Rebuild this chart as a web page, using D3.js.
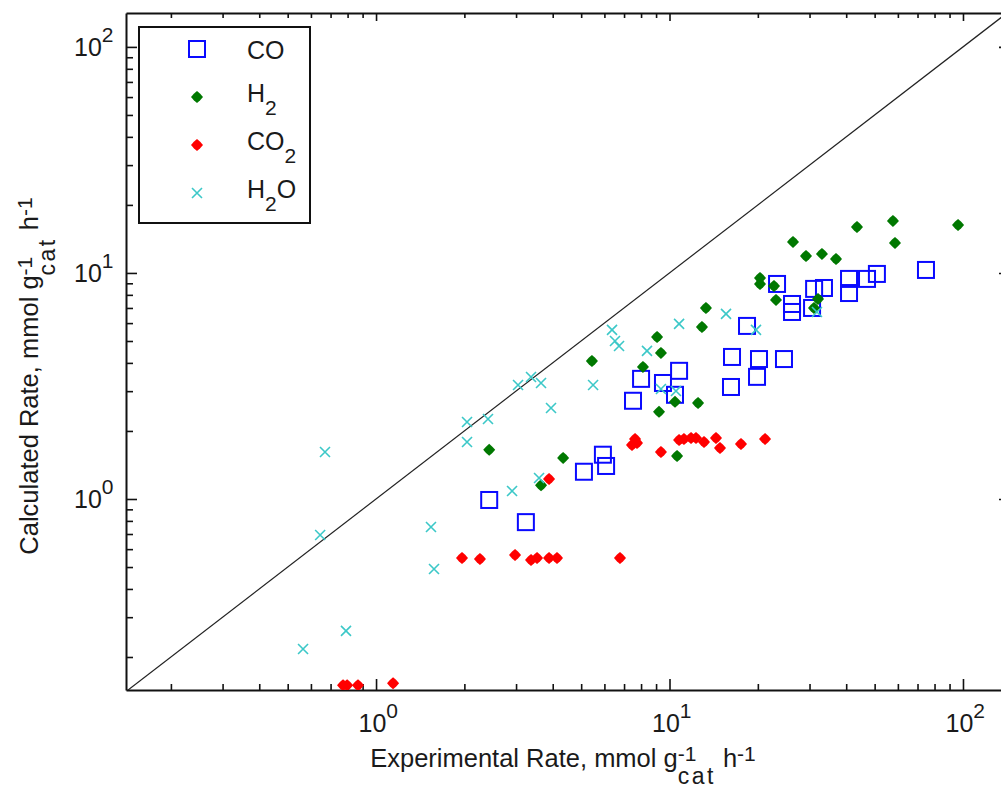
<!DOCTYPE html>
<html>
<head>
<meta charset="utf-8">
<script src="https://cdn.jsdelivr.net/npm/d3@7"></script>
<style>
  body { margin: 0; background: #fff; }
  svg { display: block; font-family: Arial, "Liberation Sans", sans-serif; }
  text { fill: #1a1a1a; }
</style>
</head>
<body>
<svg width="1001" height="791"></svg>
<script>
// experimental (x) vs calculated (y) rates, mmol g_cat^-1 h^-1
var coExp  = [2.43, 3.24, 5.11, 5.93, 6.08, 7.51, 8.00, 9.50, 10.44, 10.78, 16.2, 16.33, 18.37, 19.87, 20.18, 24.55, 23.25, 26.15, 26.15, 30.6, 31.1, 33.6, 40.9, 40.9, 47.1, 50.9, 74.8];
var coCalc = [0.99, 0.79, 1.32, 1.57, 1.40, 2.72, 3.40, 3.26, 2.89, 3.69, 3.13, 4.25, 5.83, 3.47, 4.16, 4.16, 8.94, 7.29, 6.72, 7.00, 8.50, 8.58, 9.41, 8.15, 9.41, 9.90, 10.31];

var h2Exp  = [2.43, 3.65, 4.34, 5.44, 8.12, 9.07, 9.35, 9.21, 10.44, 10.61, 12.51, 12.9, 13.31, 20.34, 20.34, 22.7, 23.06, 26.35, 29.18, 33.07, 36.93, 32.06, 31.07, 43.53, 57.73, 58.65, 96.2];
var h2Calc = [1.65, 1.15, 1.52, 4.08, 3.84, 5.21, 4.43, 2.43, 2.69, 1.55, 2.66, 5.77, 7.00, 9.50, 8.94, 8.76, 7.60, 13.72, 11.89, 12.14, 11.53, 7.67, 7.00, 15.98, 16.99, 13.58, 16.31];

var co2Exp  = [0.772, 0.797, 0.868, 1.143, 1.963, 2.26, 2.976, 3.374, 3.537, 3.886, 4.137, 3.886, 6.78, 7.45, 7.63, 7.75, 9.35, 10.78, 11.2, 11.84, 12.31, 13.11, 14.4, 14.86, 17.52, 21.16];
var co2Calc = [0.150, 0.150, 0.150, 0.153, 0.548, 0.543, 0.565, 0.537, 0.548, 0.548, 0.548, 1.226, 0.548, 1.734, 1.843, 1.769, 1.614, 1.824, 1.843, 1.862, 1.862, 1.788, 1.862, 1.681, 1.751, 1.843];

var h2oExp  = [0.564, 0.790, 0.645, 0.670, 1.539, 1.576, 2.042, 2.042, 2.407, 2.907, 3.047, 3.374, 3.649, 3.947, 3.593, 5.49, 6.37, 6.52, 6.73, 8.38, 9.35, 10.52, 10.78, 15.58, 19.71, 31.8];
var h2oCalc = [0.217, 0.261, 0.693, 1.614, 0.752, 0.490, 2.19, 1.788, 2.26, 1.085, 3.195, 3.466, 3.26, 2.527, 1.238, 3.195, 5.596, 5.00, 4.75, 4.52, 3.066, 3.005, 5.95, 6.59, 5.596, 6.72];

var seriesNames = ['CO', 'H2', 'CO2', 'H2O'];

var svg = d3.select('svg');

var x = d3.scaleLog().domain([Math.pow(10, -0.852), Math.pow(10, 2.15)]).range([126, 1007]);
var y = d3.scaleLog().domain([Math.pow(10, -0.845), Math.pow(10, 2.15)]).range([690, 13]);

function isMajor(d) {
    var l = Math.log10(d);
    return Math.abs(l - Math.round(l)) < 1e-9;
}

function allTicks(scale) {
    var dom = scale.domain(), out = [];
    [0.1, 1, 10, 100].forEach(function (dec) {
        for (var k = 1; k <= 9; k++) {
            var v = dec * k;
            if (v >= dom[0] && v <= dom[1]) out.push(v);
        }
    });
    return out;
}

function supLabel(sel, d) {
    var t = sel.append('text').attr('font-size', 25).attr('text-anchor', 'start');
    t.append('tspan').text('10');
    t.append('tspan').attr('font-size', 21).attr('dy', -14).text(Math.round(Math.log10(d)));
    return t;
}

// bottom axis
var xb = svg.append('g')
    .attr('transform', 'translate(0,690)')
    .call(d3.axisBottom(x).tickValues(allTicks(x)).tickSize(-6).tickSizeOuter(0).tickFormat(''));
xb.selectAll('.tick line').attr('y2', function (d) { return isMajor(d) ? -11 : -6; });
xb.selectAll('.tick').filter(isMajor).each(function (d) {
    supLabel(d3.select(this), d).attr('x', -18).attr('y', 42);
});

// top axis
var xt = svg.append('g')
    .attr('transform', 'translate(0,13)')
    .call(d3.axisTop(x).tickValues(allTicks(x)).tickSize(-5).tickSizeOuter(0).tickFormat(''));
xt.selectAll('.tick line').attr('y2', function (d) { return isMajor(d) ? 8 : 5; });

// left axis
var yl = svg.append('g')
    .attr('transform', 'translate(126,0)')
    .call(d3.axisLeft(y).tickValues(allTicks(y)).tickSize(-7).tickSizeOuter(0).tickFormat(''));
yl.selectAll('.tick line').attr('x2', function (d) { return isMajor(d) ? 11 : 7; });
yl.selectAll('.tick').filter(isMajor).each(function (d) {
    supLabel(d3.select(this), d).attr('x', -52).attr('y', 9);
});

// right axis
var yr = svg.append('g')
    .attr('transform', 'translate(1007,0)')
    .call(d3.axisRight(y).tickValues(allTicks(y)).tickSize(-5).tickSizeOuter(0).tickFormat(''));
yr.selectAll('.tick line').attr('x2', function (d) { return isMajor(d) ? -8 : -5; });

svg.selectAll('.domain').attr('stroke', '#111').attr('stroke-width', 2);
svg.selectAll('.tick line').attr('stroke', '#111').attr('stroke-width', 1.6);

// parity line
svg.append('clipPath').attr('id', 'plotclip')
    .append('rect').attr('x', 126).attr('y', 13).attr('width', 881).attr('height', 677);
var dom = x.domain();
svg.append('path')
    .attr('clip-path', 'url(#plotclip)')
    .attr('d', d3.line().x(function (d) { return x(d); }).y(function (d) { return y(d); })([dom[0], dom[1]]))
    .attr('stroke', '#222').attr('stroke-width', 1.2).attr('fill', 'none');

// marker helpers
function drawSquares(g, xs, ys, color) {
    g.selectAll(null).data(xs).enter().append('rect')
        .attr('x', function (d) { return x(d) - 8; })
        .attr('y', function (d, i) { return y(ys[i]) - 8; })
        .attr('width', 16).attr('height', 16)
        .attr('fill', 'none').attr('stroke', color).attr('stroke-width', 2);
}
var diamondPath = 'M0,-6L3.2,-3.2L6,0L3.2,3.2L0,6L-3.2,3.2L-6,0L-3.2,-3.2Z';
function drawDiamonds(g, xs, ys, color) {
    g.selectAll(null).data(xs).enter().append('path')
        .attr('d', diamondPath)
        .attr('transform', function (d, i) { return 'translate(' + x(d) + ',' + y(ys[i]) + ')'; })
        .attr('fill', color);
}
var crossPath = 'M-5,-5L5,5M-5,5L5,-5';
function drawCrosses(g, xs, ys, color) {
    g.selectAll(null).data(xs).enter().append('path')
        .attr('d', crossPath)
        .attr('transform', function (d, i) { return 'translate(' + x(d) + ',' + y(ys[i]) + ')'; })
        .attr('stroke', color).attr('stroke-width', 1.6).attr('fill', 'none');
}

var colors = { CO: '#0a0aff', H2: '#007800', CO2: '#ff0000', H2O: '#3cc8c8' };

var marks = svg.append('g').attr('clip-path', 'url(#plotclip)');
drawSquares(marks.append('g'), coExp, coCalc, colors.CO);
drawDiamonds(marks.append('g'), h2Exp, h2Calc, colors.H2);
drawDiamonds(marks.append('g'), co2Exp, co2Calc, colors.CO2);
drawCrosses(marks.append('g'), h2oExp, h2oCalc, colors.H2O);

// legend
var leg = svg.append('g');
leg.append('rect').attr('x', 139).attr('y', 27).attr('width', 171).attr('height', 196)
    .attr('fill', '#fff').attr('stroke', '#111').attr('stroke-width', 2);
seriesNames.forEach(function (name, i) {
    var sy = 49 + i * 48;
    var g = leg.append('g');
    if (name === 'CO') drawSquares(g, [1], [1], colors.CO);
    else if (name === 'H2O') drawCrosses(g, [1], [1], colors.H2O);
    else drawDiamonds(g, [1], [1], colors[name]);
    g.selectAll('rect,path').attr('transform', null).attr('x', function () { return d3.select(this).attr('width') ? -8 : null; })
        .attr('y', function () { return d3.select(this).attr('width') ? -8 : null; });
    g.attr('transform', 'translate(197,' + sy + ')');
    var hasSub = /\d/.test(name);
    var t = leg.append('text').attr('x', 247).attr('y', sy + (hasSub ? 5 : 10)).attr('font-size', 25);
    var chars = name.match(/\d+|\D+/g);
    var shifted = false;
    chars.forEach(function (c) {
        if (/\d/.test(c)) {
            t.append('tspan').attr('font-size', 21).attr('dy', 13).text(c);
            shifted = true;
        } else {
            t.append('tspan').attr('dy', shifted ? -13 : 0).text(c);
            shifted = false;
        }
    });
});

// axis titles with sup/subscripts
function richLabel(g, parts) {
    var cx = 0, prevStart = 0, prevEnd = 0;
    parts.forEach(function (p) {
        var t = g.append('text').attr('font-size', p.size).attr('y', p.dy || 0)
            .attr('letter-spacing', p.ls || 0).text(p.t);
        var w = t.node().getComputedTextLength();
        var start = p.stack ? prevStart : cx + (p.gap || 0);
        t.attr('x', start);
        var end = start + w;
        if (p.stack) end = Math.max(end, prevEnd);
        prevStart = start; prevEnd = end; cx = end;
    });
    g.attr('transform', 'translate(' + (-cx / 2) + ',0)');
}
function unitParts(lead) {
    return [
        { t: lead + ' Rate, mmol g', size: 25.5 },
        { t: '-1', size: 21, dy: -6 },
        { t: 'cat', size: 23, dy: 17, stack: true, ls: 2.5 },
        { t: 'h', size: 25.5, gap: 7 },
        { t: '-1', size: 21, dy: -6 }
    ];
}
richLabel(svg.append('g').attr('transform', 'translate(563,767)').append('g'), unitParts('Experimental'));
richLabel(svg.append('g').attr('transform', 'translate(38,376) rotate(-90)').append('g'), unitParts('Calculated'));
</script>
</body>
</html>
